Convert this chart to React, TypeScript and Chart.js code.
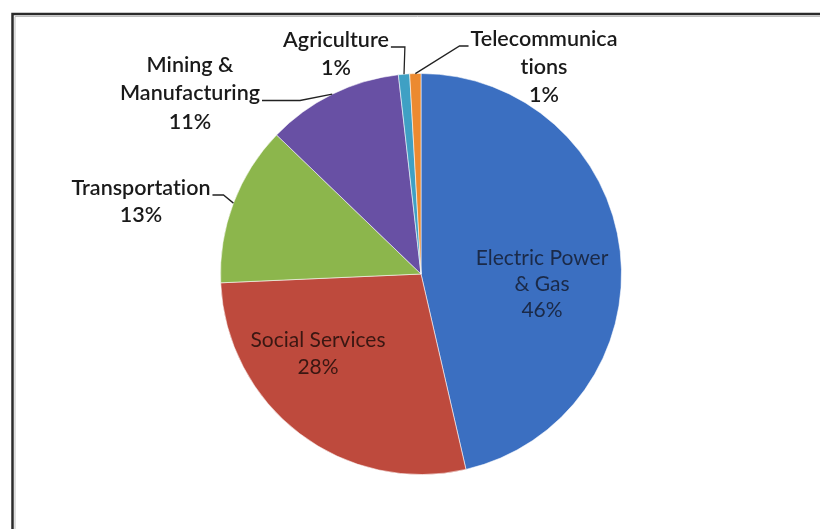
import React, { useEffect, useRef } from 'react';
import { Chart, registerables } from 'chart.js';

Chart.register(...registerables);

// ---- data ----
const categories = [
  'Electric Power & Gas',
  'Social Services',
  'Transportation',
  'Mining & Manufacturing',
  'Agriculture',
  'Telecommunications',
];
const shares = [46.4, 27.9, 12.9, 11.0, 0.9, 0.9];
const nameLines = [
  ['Electric Power', '& Gas'],
  ['Social Services'],
  ['Transportation'],
  ['Mining &', 'Manufacturing'],
  ['Agriculture'],
  ['Telecommunica', 'tions'],
];

// ---- styles / layout ----
const sliceColors = ['#3B6FC1', '#BE4A3D', '#8CB64C', '#6850A4', '#3FA0C4', '#EC8A30'];
const FONT = '"Lato", "Open Sans", sans-serif';

type LeaderSpec = { side: 'right' | 'left'; len: number; line: number };
type LabelSpec = { dx: number; dy: number; lh: number; size: number; color: string; weight: string; leader?: LeaderSpec };

const labelLayout: LabelSpec[] = [
  { dx: 121, dy: -16, lh: 26, size: 21, color: '#1B2A48', weight: '400' },
  { dx: -103, dy: 66, lh: 27, size: 21, color: '#3A1712', weight: '400' },
  { dx: -280, dy: -86, lh: 27, size: 21.5, color: '#1A1A1A', weight: '600', leader: { side: 'right', len: 11, line: 0 } },
  { dx: -231, dy: -209, lh: 28.5, size: 21.5, color: '#1A1A1A', weight: '600', leader: { side: 'right', len: 38, line: 1 } },
  { dx: -85, dy: -234, lh: 28, size: 21.5, color: '#1A1A1A', weight: '600', leader: { side: 'right', len: 14, line: 0 } },
  { dx: 123, dy: -235, lh: 28, size: 21.5, color: '#1A1A1A', weight: '600', leader: { side: 'left', len: 9, line: 0 } },
];

const framePlugin = {
  id: 'frame',
  beforeDraw(chart: any) {
    const ctx = chart.ctx;
    ctx.save();
    ctx.fillStyle = '#ffffff';
    ctx.fillRect(0, 0, chart.width, chart.height);
    ctx.strokeStyle = '#2b2b2b';
    ctx.lineWidth = 2.5;
    ctx.beginPath();
    ctx.moveTo(12.5, chart.height);
    ctx.lineTo(12.5, 14);
    ctx.lineTo(chart.width, 14);
    ctx.stroke();
    ctx.strokeStyle = '#bdbdbd';
    ctx.lineWidth = 1;
    ctx.beginPath();
    ctx.moveTo(15, chart.height);
    ctx.lineTo(15, 16.5);
    ctx.lineTo(chart.width, 16.5);
    ctx.stroke();
    ctx.restore();
  },
};

const labelPlugin = {
  id: 'pieLabels',
  afterDraw(chart: any) {
    const ctx = chart.ctx;
    const meta = chart.getDatasetMeta(0);
    const values: number[] = chart.data.datasets[0].data;
    const total = values.reduce((a, b) => a + b, 0);
    ctx.save();
    try {
      (ctx as any).textRendering = 'optimizeSpeed';
    } catch (e) {
      /* ignore */
    }
    meta.data.forEach((arc: any, i: number) => {
      const { x, y, startAngle, endAngle, outerRadius } = arc.getProps(
        ['x', 'y', 'startAngle', 'endAngle', 'outerRadius'],
        true
      );
      const L = labelLayout[i];
      const lines = [...nameLines[i], Math.round((values[i] / total) * 100) + '%'];
      ctx.font = `${L.weight} ${L.size}px ${FONT}`;
      ctx.fillStyle = L.color;
      ctx.textAlign = 'center';
      ctx.textBaseline = 'middle';
      const x0 = x + L.dx;
      const y0 = y + L.dy;
      lines.forEach((t, k) => ctx.fillText(t, x0, y0 + k * L.lh));
      if (L.leader) {
        const mid = (startAngle + endAngle) / 2;
        const ax = x + Math.cos(mid) * outerRadius;
        const ay = y + Math.sin(mid) * outerRadius;
        const k = L.leader.line;
        const w = ctx.measureText(lines[k]).width;
        const ly = y0 + k * L.lh + 7;
        const sx = L.leader.side === 'right' ? x0 + w / 2 + 2 : x0 - w / 2 - 2;
        const ex = L.leader.side === 'right' ? sx + L.leader.len : sx - L.leader.len;
        ctx.beginPath();
        ctx.moveTo(sx, ly);
        ctx.lineTo(ex, ly);
        ctx.lineTo(ax, ay);
        ctx.strokeStyle = '#222222';
        ctx.lineWidth = 1.3;
        ctx.stroke();
      }
    });
    ctx.restore();
  },
};

export default function App() {
  const canvasRef = useRef<HTMLCanvasElement | null>(null);

  useEffect(() => {
    if (!canvasRef.current) return;
    const chart = new Chart(canvasRef.current, {
      type: 'pie',
      data: {
        labels: categories,
        datasets: [
          {
            data: shares,
            backgroundColor: sliceColors,
            borderColor: 'rgba(255,255,255,0.55)',
            borderWidth: 1,
            hoverOffset: 0,
            offset: 0,
          },
        ],
      },
      options: {
        responsive: false,
        animation: false,
        layout: { padding: { left: 220, right: 198, top: 73, bottom: 54 } },
        plugins: {
          legend: { display: false },
          tooltip: { enabled: false },
          title: { display: false },
        },
        events: [],
      },
      plugins: [framePlugin, labelPlugin],
    });
    return () => chart.destroy();
  }, []);

  return (
    <div style={{ position: 'fixed', left: 0, top: 0, width: 820, height: 529, background: '#fff' }}>
      <canvas ref={canvasRef} width={820} height={529} style={{ display: 'block' }} />
    </div>
  );
}
